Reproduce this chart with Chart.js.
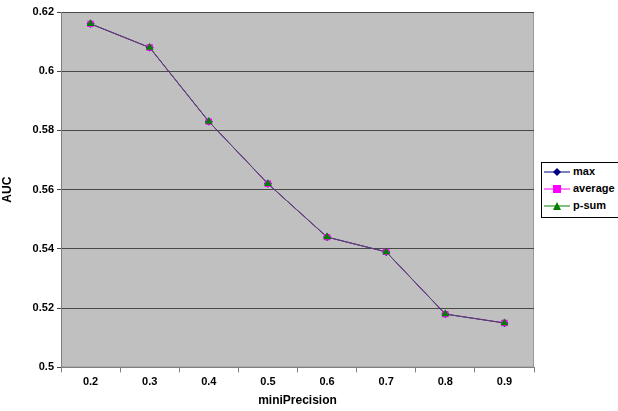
<!DOCTYPE html>
<html>
<head>
<meta charset="utf-8">
<script src="https://cdn.jsdelivr.net/npm/chart.js@4.4.1/dist/chart.umd.min.js"></script>
<style>
  html, body { margin: 0; padding: 0; background: #fff; }
  #wrap { position: relative; width: 618px; height: 411px; overflow: hidden; }
  #legend {
    position: absolute; left: 541px; top: 162px; width: 90px; height: 54px;
    border: 1px solid #000; background: #fff;
    font: bold 11px "Liberation Sans", Arial, sans-serif; color: #000;
  }
  #legend div { height: 17px; line-height: 17px; white-space: nowrap; }
  #legend svg { vertical-align: middle; margin: 0 3px 0 2px; }
</style>
</head>
<body>
<div id="wrap">
  <canvas id="aucChart" width="618" height="411"></canvas>
  <div id="legend">
    <div><svg width="26" height="10"><line x1="0" y1="5" x2="26" y2="5" stroke="#000080" stroke-width="1"/><polygon points="13,1 17,5 13,9 9,5" fill="#000080"/></svg>max</div>
    <div><svg width="26" height="10"><line x1="0" y1="5" x2="26" y2="5" stroke="#ff00ff" stroke-width="1"/><rect x="9" y="1" width="8" height="8" fill="#ff00ff"/></svg>average</div>
    <div><svg width="26" height="10"><line x1="0" y1="5" x2="26" y2="5" stroke="#008000" stroke-width="1"/><polygon points="13,1 17,9 9,9" fill="#008000"/></svg>p-sum</div>
  </div>
</div>
<script>
// values
const miniPrecision = ['0.2', '0.3', '0.4', '0.5', '0.6', '0.7', '0.8', '0.9'];
const maxAUC     = [0.616, 0.608, 0.583, 0.562, 0.544, 0.539, 0.518, 0.515];
const averageAUC = [0.616, 0.608, 0.583, 0.562, 0.544, 0.539, 0.518, 0.515];
const psumAUC    = [0.616, 0.608, 0.583, 0.562, 0.544, 0.539, 0.518, 0.515];
const yTicks = [0.5, 0.52, 0.54, 0.56, 0.58, 0.6, 0.62];

const tickFont = { family: 'Liberation Sans', size: 11, weight: 'bold' };

// gray plot area like the old Excel charts
const plotBackground = {
    id: 'plotBackground',
    beforeDraw(chart) {
        const { ctx, chartArea: a } = chart;
        ctx.save();
        ctx.fillStyle = '#c0c0c0';
        ctx.fillRect(a.left, a.top, a.right - a.left, a.bottom - a.top);
        ctx.strokeStyle = '#9a9a9a';
        ctx.lineWidth = 1;
        ctx.strokeRect(a.left + 0.5, a.top + 0.5, a.right - a.left - 1, a.bottom - a.top - 1);
        ctx.restore();
    }
};

const ctx = document.getElementById('aucChart').getContext('2d');
const aucChart = new Chart(ctx, {
    type: 'line',
    data: {
        labels: miniPrecision,
        datasets: [
            {
                label: 'max',
                data: maxAUC,
                order: 2,
                borderColor: '#000080',
                backgroundColor: '#000080',
                borderWidth: 1,
                pointStyle: 'rectRot',
                pointRadius: 4,
                pointBorderWidth: 0
            },
            {
                label: 'average',
                data: averageAUC,
                order: 1,
                borderColor: 'rgba(255,0,255,0.5)',
                backgroundColor: '#ff00ff',
                borderWidth: 1,
                pointStyle: 'rect',
                pointRadius: 4.5,
                pointBorderWidth: 0
            },
            {
                label: 'p-sum',
                data: psumAUC,
                order: 0,
                borderColor: 'rgba(80,85,80,0.8)',
                backgroundColor: '#008000',
                borderWidth: 1,
                pointStyle: 'triangle',
                pointRadius: 4.5,
                pointBorderWidth: 0
            }
        ]
    },
    options: {
        responsive: false,
        animation: false,
        layout: { padding: { top: 12, right: 84, bottom: 3, left: 0 } },
        plugins: {
            legend: { display: false },
            tooltip: { enabled: false }
        },
        scales: {
            x: {
                offset: true,
                grid: {
                    offset: true,
                    drawOnChartArea: false,
                    drawTicks: true,
                    tickLength: 5,
                    color: '#808080'
                },
                border: { color: '#808080' },
                ticks: { color: '#000', font: tickFont, padding: 3 },
                title: {
                    display: true,
                    text: 'miniPrecision',
                    color: '#000',
                    font: { family: 'Liberation Sans', size: 12, weight: 'bold' },
                    padding: { top: 2, bottom: 0 }
                }
            },
            y: {
                min: 0.5,
                max: 0.62,
                afterBuildTicks(axis) {
                    axis.ticks = yTicks.map(v => ({ value: v }));
                },
                afterFit(axis) { axis.width = 61; },
                grid: {
                    color: '#484848',
                    lineWidth: 1,
                    tickLength: 4
                },
                border: { color: '#808080' },
                ticks: {
                    color: '#000',
                    font: tickFont,
                    padding: 3,
                    callback: v => String(+v.toFixed(2))
                },
                title: {
                    display: true,
                    text: 'AUC',
                    color: '#000',
                    font: { family: 'Liberation Sans', size: 12, weight: 'bold' },
                    padding: 0
                }
            }
        }
    },
    plugins: [plotBackground]
});
</script>
</body>
</html>
